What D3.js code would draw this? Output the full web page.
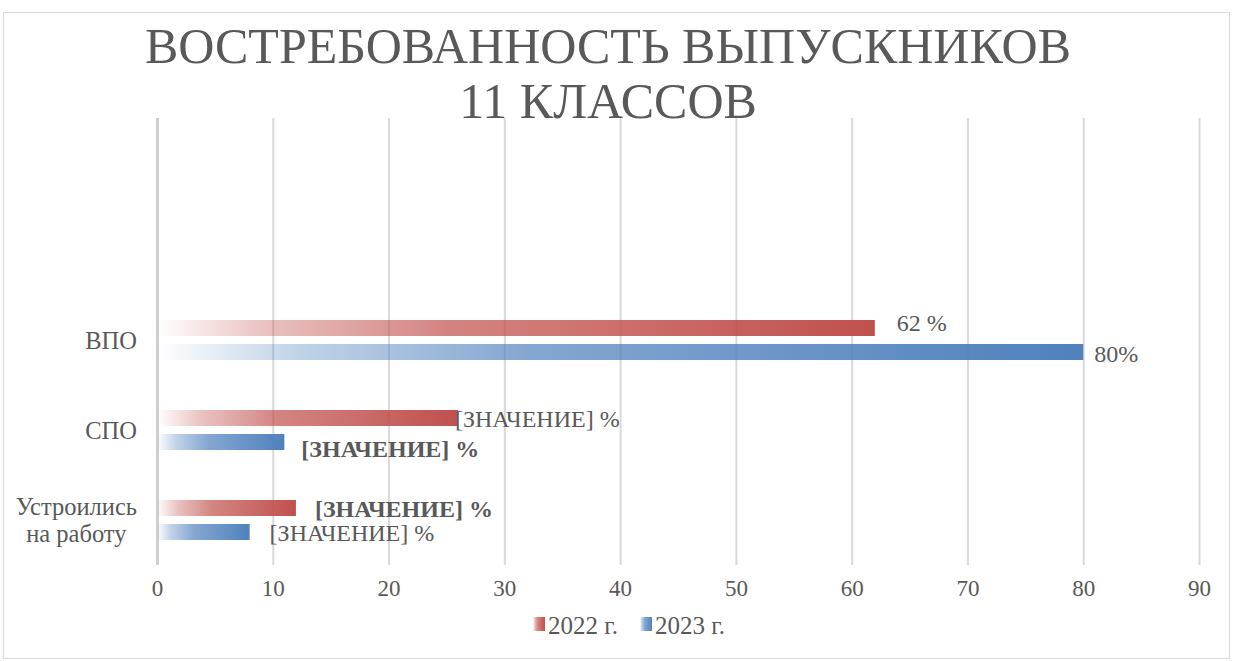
<!DOCTYPE html>
<html><head><meta charset="utf-8">
<script src="https://cdn.jsdelivr.net/npm/d3@7"></script>
<style>body{margin:0;background:#fff}svg{display:block}text{font-family:"Liberation Serif","Times New Roman",serif;fill:#595959}</style>
</head><body><svg id="c" width="1233" height="661"></svg>
<script>
const titleLines = ["ВОСТРЕБОВАННОСТЬ ВЫПУСКНИКОВ", "11 КЛАССОВ"];
const categories = ["", "", "ВПО", "СПО", "Устроились\nна работу"];
const seriesNames = ["2022 г.", "2023 г."];
const values2022 = [null, null, 62, 26, 12];
const values2023 = [null, null, 80, 11, 8];
const labels2022 = ["", "", "62 %", "[ЗНАЧЕНИЕ] %", "[ЗНАЧЕНИЕ] %"];
const labels2023 = ["", "", "80%", "[ЗНАЧЕНИЕ] %", "[ЗНАЧЕНИЕ] %"];
const bold2022 = [false, false, false, false, true];
const bold2023 = [false, false, false, true, false];
const xTicks = [0,10,20,30,40,50,60,70,80,90];
const colors = ["#C0504D", "#4F81BD"];

const FONT = '"Liberation Serif","Times New Roman",serif';
const svg = d3.select("#c");
svg.append("rect").attr("x",3.5).attr("y",12.5).attr("width",1226).attr("height",646)
  .attr("fill","#fff").attr("stroke","#d9d9d9").attr("stroke-width",1);

const defs = svg.append("defs");
colors.forEach((c,i)=>{
  const g = defs.append("linearGradient").attr("id","g"+i).attr("x1","0").attr("x2","1").attr("y1","0").attr("y2","0");
  g.append("stop").attr("offset","0").attr("stop-color",c).attr("stop-opacity",0);
  g.append("stop").attr("offset","0.15").attr("stop-color",c).attr("stop-opacity",0.35);
  g.append("stop").attr("offset","0.4").attr("stop-color",c).attr("stop-opacity",0.7);
  g.append("stop").attr("offset","1").attr("stop-color",c).attr("stop-opacity",1);
});

const x = d3.scaleLinear().domain([0,90]).range([157,1199]);
const y = d3.scaleBand().domain(d3.range(categories.length)).range([115,565]);

// title
svg.append("g").selectAll("text").data(titleLines).join("text")
  .attr("x",608).attr("y",(d,i)=>63+i*55).attr("text-anchor","middle")
  .attr("font-size",50).style("font-family",FONT).text(d=>d);

// gridlines + axis labels
const gx = svg.append("g").attr("transform","translate(0,565)")
  .call(d3.axisBottom(x).tickValues(xTicks).tickSize(-447).tickSizeOuter(0).tickPadding(14).tickFormat(d=>d));
gx.select(".domain").remove();
gx.selectAll(".tick line").attr("stroke","#d9d9d9").attr("stroke-width",2);
gx.selectAll(".tick").filter(d=>d===0).select("line").attr("stroke","#cfcfcf").attr("stroke-width",3);
gx.selectAll(".tick text").attr("font-size",23).attr("fill","#595959").attr("dy","0.75em")
  .style("font-family",FONT);

// bars
const bh = 16;
const series = [values2022, values2023];
const labels = [labels2022, labels2023];
const bolds = [bold2022, bold2023];
const offs = [-20, 4];
series.forEach((vals,s)=>{
  const data = vals.map((v,i)=>({v,i})).filter(d=>d.v!=null);
  svg.append("g").selectAll("rect").data(data).join("rect")
    .attr("x",x(0)).attr("width",d=>x(d.v)-x(0))
    .attr("y",d=>y(d.i)+y.bandwidth()/2+offs[s]).attr("height",bh)
    .attr("fill","url(#g"+s+")");
});

// data labels (offsets from bar end, as placed in the reference)
const labelPos = [
  [null,null,{dx:22,dy:-5},{dx:-3,dy:1},{dx:19,dy:1}],
  [null,null,{dx:11,dy:2},{dx:17,dy:7},{dx:20,dy:1}]
];
series.forEach((vals,s)=>{
  const data = vals.map((v,i)=>({v,i})).filter(d=>d.v!=null);
  svg.append("g").selectAll("text").data(data).join("text")
    .attr("x",d=>x(d.v)+labelPos[s][d.i].dx)
    .attr("y",d=>y(d.i)+y.bandwidth()/2+offs[s]+bh/2+labelPos[s][d.i].dy)
    .attr("dominant-baseline","central")
    .attr("font-size",24).style("font-family",FONT)
    .attr("font-weight",d=>bolds[s][d.i]?"bold":"normal")
    .text(d=>labels[s][d.i]);
});

// category labels: block right-aligned, lines centered within block
categories.forEach((c,i)=>{
  const lines = c.split("\n").filter(l=>l);
  if(!lines.length) return;
  const cy = y(i)+y.bandwidth()/2;
  const g = svg.append("g");
  const ts = lines.map((l,j)=>g.append("text").attr("y",cy+(j-(lines.length-1)/2)*27)
      .attr("text-anchor","middle").attr("dominant-baseline","central")
      .attr("font-size",24.5).style("font-family",FONT).text(l));
  const w = d3.max(ts, t=>t.node().getComputedTextLength());
  ts.forEach(t=>t.attr("x",137 - w/2));
});

// legend
const leg = svg.append("g");
const legX = [533, 640];
seriesNames.forEach((n,s)=>{
  leg.append("rect").attr("x",legX[s]).attr("y",617).attr("width",12).attr("height",14).attr("fill","url(#g"+s+")");
  leg.append("text").attr("x",legX[s]+15).attr("y",625).attr("dominant-baseline","central")
    .attr("font-size",25).style("font-family",FONT).text(n);
});
</script></body></html>
